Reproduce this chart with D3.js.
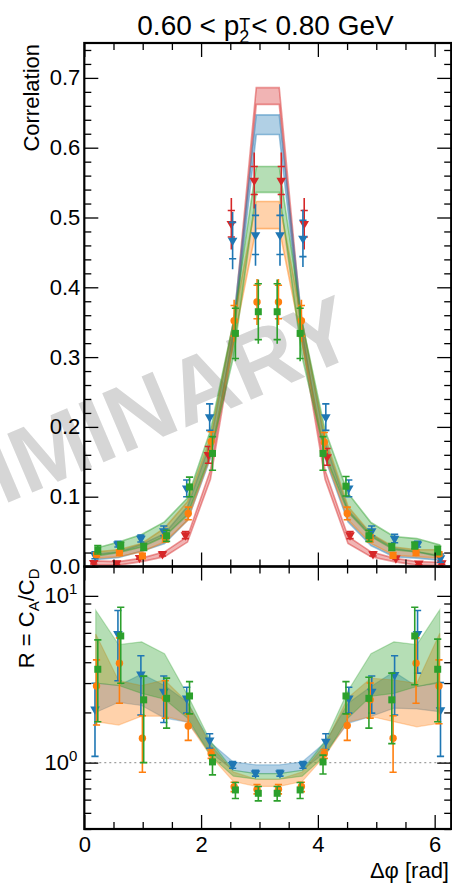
<!DOCTYPE html>
<html>
<head>
<meta charset="utf-8">
<script src="https://cdn.jsdelivr.net/npm/d3@7"></script>
<style>
  html, body { margin: 0; padding: 0; background: #fff; }
  svg { display: block; }
</style>
</head>
<body>
<svg id="chart" width="452" height="887"></svg>
<script>
// ---------------- data ----------------
// bin centres in delta-phi [rad]
const dphi = [0.196, 0.589, 0.982, 1.374, 1.767, 2.160, 2.553, 2.945,
              3.338, 3.731, 4.123, 4.516, 4.909, 5.301, 5.694, 6.087];

// correlation, upper panel (value, stat. error with caps, total error)
const corrRed      = [0.0055, 0.005, 0.0126, 0.018, 0.045, 0.160, 0.491, 0.553, 0.553, 0.491, 0.157, 0.045, 0.018, 0.012, 0.0046, 0.005];
const corrRedStat  = [0.002, 0.002, 0.002, 0.003, 0.005, 0.012, 0.019, 0.020, 0.020, 0.019, 0.012, 0.005, 0.003, 0.002, 0.002, 0.002];
const corrRedTot   = [0.002, 0.002, 0.002, 0.003, 0.005, 0.012, 0.037, 0.040, 0.040, 0.037, 0.012, 0.005, 0.003, 0.002, 0.002, 0.002];

const corrBlue     = [0.016, 0.032, 0.040, 0.051, 0.112, 0.214, 0.467, 0.475, 0.475, 0.470, 0.214, 0.112, 0.051, 0.040, 0.032, 0.012];
const corrBlueStat = [0.005, 0.004, 0.005, 0.007, 0.012, 0.019, 0.026, 0.028, 0.028, 0.026, 0.019, 0.012, 0.007, 0.006, 0.004, 0.006];
const corrBlueTot  = [0.005, 0.004, 0.005, 0.007, 0.012, 0.019, 0.041, 0.044, 0.044, 0.041, 0.019, 0.012, 0.007, 0.006, 0.004, 0.006];

const corrOrange     = [0.017, 0.020, 0.015, 0.040, 0.076, 0.179, 0.352, 0.379, 0.379, 0.352, 0.178, 0.076, 0.040, 0.016, 0.020, 0.018];
const corrOrangeStat = [0.003, 0.004, 0.004, 0.005, 0.009, 0.014, 0.022, 0.024, 0.024, 0.022, 0.014, 0.009, 0.005, 0.004, 0.004, 0.003];
const corrOrangeTot  = [0.003, 0.004, 0.004, 0.005, 0.009, 0.014, 0.030, 0.033, 0.033, 0.030, 0.014, 0.009, 0.005, 0.004, 0.004, 0.003];

const corrGreen     = [0.024, 0.030, 0.028, 0.044, 0.114, 0.162, 0.334, 0.365, 0.365, 0.334, 0.162, 0.115, 0.044, 0.028, 0.030, 0.023];
const corrGreenStat = [0.006, 0.005, 0.005, 0.008, 0.014, 0.024, 0.036, 0.040, 0.040, 0.036, 0.024, 0.014, 0.008, 0.005, 0.005, 0.006];
const corrGreenTot  = [0.006, 0.005, 0.005, 0.008, 0.014, 0.024, 0.040, 0.046, 0.046, 0.040, 0.024, 0.014, 0.008, 0.005, 0.005, 0.006];

// model bands, upper panel
const bandRedLo    = [0.002, 0.002, 0.007, 0.014, 0.035, 0.125, 0.320, 0.662, 0.662, 0.320, 0.125, 0.033, 0.014, 0.007, 0.002, 0.001];
const bandRedHi    = [0.008, 0.007, 0.012, 0.021, 0.043, 0.138, 0.340, 0.686, 0.686, 0.340, 0.138, 0.043, 0.021, 0.012, 0.007, 0.006];
const bandBlueLo   = [0.010, 0.013, 0.022, 0.033, 0.066, 0.155, 0.330, 0.619, 0.619, 0.330, 0.155, 0.064, 0.030, 0.014, 0.012, 0.009];
const bandBlueHi   = [0.018, 0.021, 0.032, 0.047, 0.086, 0.178, 0.350, 0.647, 0.647, 0.350, 0.178, 0.081, 0.046, 0.026, 0.021, 0.016];
const bandOrangeLo = [0.012, 0.014, 0.021, 0.035, 0.066, 0.158, 0.320, 0.484, 0.484, 0.320, 0.158, 0.067, 0.033, 0.016, 0.014, 0.012];
const bandOrangeHi = [0.021, 0.024, 0.033, 0.055, 0.093, 0.185, 0.350, 0.523, 0.523, 0.350, 0.185, 0.086, 0.047, 0.028, 0.024, 0.024];
const bandGreenLo  = [0.015, 0.020, 0.028, 0.043, 0.074, 0.160, 0.300, 0.536, 0.536, 0.300, 0.160, 0.078, 0.043, 0.024, 0.021, 0.014];
const bandGreenHi  = [0.026, 0.035, 0.046, 0.064, 0.098, 0.195, 0.350, 0.573, 0.573, 0.350, 0.195, 0.105, 0.063, 0.043, 0.040, 0.031];

// ratio R = C_A / C_D, lower panel (value, lower and upper error ends)
const ratioBlue     = [2.09, 5.92, 3.39, 2.67, 2.43, 1.36, 0.97, 0.864, 0.864, 0.97, 1.34, 2.43, 2.67, 3.36, 5.92, 2.07];
const ratioBlueLo   = [1.09, 3.10, 1.93, 1.74, 1.98, 1.22, 0.925, 0.83, 0.83, 0.925, 1.20, 1.98, 1.98, 1.93, 3.44, 1.09];
const ratioBlueHi   = [2.99, 8.17, 4.37, 3.31, 2.83, 1.49, 1.014, 0.90, 0.90, 1.014, 1.49, 2.83, 3.31, 4.37, 8.17, 3.02];

const ratioOrange   = [2.88, 3.95, 1.40, 2.43, 1.66, 1.13, 0.718, 0.692, 0.692, 0.72, 1.13, 1.67, 2.38, 1.40, 3.95, 2.88];
const ratioOrangeLo = [1.68, 2.27, 0.875, 1.85, 1.36, 1.06, 0.67, 0.65, 0.65, 0.67, 1.06, 1.36, 1.85, 0.875, 2.27, 1.71];
const ratioOrangeHi = [4.13, 5.60, 1.91, 3.10, 1.96, 1.20, 0.763, 0.74, 0.74, 0.763, 1.20, 1.96, 3.00, 1.91, 5.60, 4.13];

const ratioGreen    = [3.63, 5.75, 2.38, 2.43, 2.51, 1.01, 0.686, 0.655, 0.655, 0.686, 1.01, 2.51, 2.43, 2.38, 5.75, 3.63];
const ratioGreenLo  = [1.76, 2.99, 1.00, 1.61, 1.96, 0.844, 0.61, 0.59, 0.59, 0.61, 0.855, 1.96, 1.61, 1.30, 2.93, 1.76];
const ratioGreenHi  = [5.45, 8.55, 3.30, 3.21, 3.06, 1.11, 0.76, 0.72, 0.72, 0.76, 1.11, 3.06, 3.25, 3.44, 8.55, 5.50];

// model bands, lower panel
const rBandBlueLo   = [2.00, 2.30, 2.20, 1.85, 1.75, 1.15, 0.90, 0.86, 0.86, 0.90, 1.15, 1.72, 1.89, 2.12, 2.10, 2.02];
const rBandBlueHi   = [3.00, 2.90, 3.40, 2.90, 2.30, 1.32, 1.01, 0.97, 0.97, 1.01, 1.32, 2.27, 2.86, 3.51, 2.86, 3.06];
const rBandOrangeLo = [1.76, 1.68, 1.90, 1.90, 1.75, 1.10, 0.77, 0.72, 0.72, 0.77, 1.10, 1.75, 1.89, 1.76, 1.64, 1.72];
const rBandOrangeHi = [5.90, 3.10, 2.90, 3.13, 2.30, 1.28, 0.88, 0.795, 0.795, 0.88, 1.28, 2.45, 3.21, 3.13, 2.99, 5.97];
const rBandGreenLo  = [3.00, 2.90, 2.60, 2.40, 1.85, 1.10, 0.83, 0.795, 0.795, 0.83, 1.10, 1.85, 2.50, 2.60, 2.86, 3.00];
const rBandGreenHi  = [8.20, 5.10, 5.30, 4.50, 2.55, 1.35, 0.90, 0.86, 0.86, 0.90, 1.35, 2.70, 4.50, 5.30, 5.10, 8.26];

// axis ticks
const xMajorTicks = [0, 2, 4, 6];
const xTickLabels = ["0", "2", "4", "6"];
const xMinorTicks = [0.5, 1, 1.5, 2.5, 3, 3.5, 4.5, 5, 5.5];
const yTopMajorTicks = [0, 0.1, 0.2, 0.3, 0.4, 0.5, 0.6, 0.7];
const yTopTickLabels = ["0.0", "0.1", "0.2", "0.3", "0.4", "0.5", "0.6", "0.7"];
const yBotMajorTicks = [1, 10];
const yBotTickExp = ["0", "1"];
const yBotMinorTicks = [0.4, 0.5, 0.6, 0.7, 0.8, 0.9, 2, 3, 4, 5, 6, 7, 8, 9];

// ---------------- layout ----------------
const FONT = '"Liberation Sans", Arial, Helvetica, sans-serif';
const svg = d3.select("#chart").attr("font-family", FONT);
const frame = { left: 84.3, right: 451.2, top: 43, mid: 566.5, bottom: 829 };

const x = d3.scaleLinear().domain([0, 2 * Math.PI]).range([frame.left, frame.right]);
const yTop = d3.scaleLinear().domain([0, 0.75]).range([frame.mid, frame.top]);
const yBot = d3.scaleLog().domain([0.4, 15]).range([frame.bottom, frame.mid]);

const yTopMinorTicks = d3.range(0, 0.751, 0.02).filter(v => Math.abs(v * 10 - Math.round(v * 10)) > 1e-6);

// watermark, behind everything
svg.append("text")
  .attr("transform", "translate(361,353) rotate(-23)")
  .attr("text-anchor", "end")
  .attr("font-size", 93)
  .attr("font-weight", "bold")
  .attr("fill", "#d6d6d6")
  .text("PRELIMINARY");

const defs = svg.append("defs");
defs.append("clipPath").attr("id", "clipTop").append("rect")
  .attr("x", frame.left).attr("y", frame.top)
  .attr("width", frame.right - frame.left).attr("height", frame.mid - frame.top);
defs.append("clipPath").attr("id", "clipBot").append("rect")
  .attr("x", frame.left).attr("y", frame.mid)
  .attr("width", frame.right - frame.left).attr("height", frame.bottom - frame.mid);

const series = [
  { color: "#d62728", shape: "tri", off: -0.035,
    corr: corrRed, stat: corrRedStat, tot: corrRedTot, bandLo: bandRedLo, bandHi: bandRedHi },
  { color: "#1f77b4", shape: "tri", off: -0.013,
    corr: corrBlue, stat: corrBlueStat, tot: corrBlueTot, bandLo: bandBlueLo, bandHi: bandBlueHi,
    ratio: ratioBlue, rLo: ratioBlueLo, rHi: ratioBlueHi, rBandLo: rBandBlueLo, rBandHi: rBandBlueHi },
  { color: "#ff7f0e", shape: "circle", off: 0.013,
    corr: corrOrange, stat: corrOrangeStat, tot: corrOrangeTot, bandLo: bandOrangeLo, bandHi: bandOrangeHi,
    ratio: ratioOrange, rLo: ratioOrangeLo, rHi: ratioOrangeHi, rBandLo: rBandOrangeLo, rBandHi: rBandOrangeHi },
  { color: "#2ca02c", shape: "square", off: 0.035,
    corr: corrGreen, stat: corrGreenStat, tot: corrGreenTot, bandLo: bandGreenLo, bandHi: bandGreenHi,
    ratio: ratioGreen, rLo: ratioGreenLo, rHi: ratioGreenHi, rBandLo: rBandGreenLo, rBandHi: rBandGreenHi }
];

// points are nudged towards the near-side peak so that series do not overlap
const px = (s, i) => x(dphi[i] + s.off * (dphi[i] < Math.PI ? 1 : -1));

function marker(g, cx, cy, shape, color) {
  if (shape === "tri") {
    g.append("path").attr("d", d3.symbol(d3.symbolTriangle, 40)())
      .attr("transform", `translate(${cx},${cy}) rotate(180)`).attr("fill", color);
  } else if (shape === "circle") {
    g.append("circle").attr("cx", cx).attr("cy", cy).attr("r", 3.7).attr("fill", color);
  } else {
    g.append("rect").attr("x", cx - 3.5).attr("y", cy - 3.5).attr("width", 7).attr("height", 7).attr("fill", color);
  }
}

function errorBar(g, cx, yA, yB, capA, capB, color) {
  g.append("line").attr("x1", cx).attr("x2", cx).attr("y1", yA).attr("y2", yB)
    .attr("stroke", color).attr("stroke-width", 1.6);
  [capA, capB].forEach(cy => g.append("line")
    .attr("x1", cx - 3.6).attr("x2", cx + 3.6).attr("y1", cy).attr("y2", cy)
    .attr("stroke", color).attr("stroke-width", 1.6));
}

// ---------------- upper panel ----------------
const gUpper = svg.append("g").attr("clip-path", "url(#clipTop)");
series.forEach(s => {
  const area = d3.area().x((d, i) => x(dphi[i])).y0((d, i) => yTop(s.bandLo[i])).y1((d, i) => yTop(s.bandHi[i]));
  gUpper.append("path").attr("d", area(dphi))
    .attr("fill", s.color).attr("fill-opacity", 0.35)
    .attr("stroke", s.color).attr("stroke-opacity", 0.45).attr("stroke-width", 1.6);
});
series.forEach(s => {
  const g = gUpper.append("g");
  s.corr.forEach((v, i) => {
    const cx = px(s, i);
    errorBar(g, cx, yTop(v + s.tot[i]), yTop(v - s.tot[i]), yTop(v + s.stat[i]), yTop(v - s.stat[i]), s.color);
    marker(g, cx, yTop(v), s.shape, s.color);
  });
});

// ---------------- lower panel ----------------
const gLower = svg.append("g").attr("clip-path", "url(#clipBot)");
gLower.append("line").attr("x1", frame.left).attr("x2", frame.right)
  .attr("y1", yBot(1)).attr("y2", yBot(1))
  .attr("stroke", "#a0a0a0").attr("stroke-width", 1.4).attr("stroke-dasharray", "2,3");
series.filter(s => s.ratio).forEach(s => {
  const area = d3.area().x((d, i) => x(dphi[i])).y0((d, i) => yBot(s.rBandLo[i])).y1((d, i) => yBot(s.rBandHi[i]));
  gLower.append("path").attr("d", area(dphi))
    .attr("fill", s.color).attr("fill-opacity", 0.35)
    .attr("stroke", s.color).attr("stroke-opacity", 0.3).attr("stroke-width", 1.2);
});
series.filter(s => s.ratio).forEach(s => {
  const g = gLower.append("g");
  s.ratio.forEach((v, i) => {
    const cx = px(s, i);
    errorBar(g, cx, yBot(s.rHi[i]), yBot(s.rLo[i]), yBot(s.rHi[i]), yBot(s.rLo[i]), s.color);
    marker(g, cx, yBot(v), s.shape, s.color);
  });
});

// ---------------- axes ----------------
function axis(gen, transform, values, len, labels, pad) {
  const a = gen.tickValues(values).tickSizeInner(-len).tickSizeOuter(0).tickPadding(pad || 4)
    .tickFormat(labels ? (d, i) => labels[i] : "");
  const g = svg.append("g").attr("transform", transform).call(a)
    .attr("font-family", FONT).attr("font-size", 22);
  g.select(".domain").remove();
  g.selectAll(".tick line").attr("stroke", "#000").attr("stroke-width", 1.3);
  g.selectAll(".tick text").attr("fill", "#000");
  return g;
}
const MAJ = 14, MIN = 7;
// upper panel
axis(d3.axisLeft(yTop), `translate(${frame.left},0)`, yTopMajorTicks, MAJ, yTopTickLabels, 4);
axis(d3.axisLeft(yTop), `translate(${frame.left},0)`, yTopMinorTicks, MIN);
axis(d3.axisRight(yTop), `translate(${frame.right},0)`, yTopMajorTicks, MAJ);
axis(d3.axisRight(yTop), `translate(${frame.right},0)`, yTopMinorTicks, MIN);
axis(d3.axisTop(x), `translate(0,${frame.top})`, xMajorTicks, MAJ);
axis(d3.axisTop(x), `translate(0,${frame.top})`, xMinorTicks, MIN);
axis(d3.axisBottom(x), `translate(0,${frame.mid})`, xMajorTicks, MAJ);
axis(d3.axisBottom(x), `translate(0,${frame.mid})`, xMinorTicks, MIN);
// lower panel
axis(d3.axisLeft(yBot), `translate(${frame.left},0)`, yBotMajorTicks, MAJ);
axis(d3.axisLeft(yBot), `translate(${frame.left},0)`, yBotMinorTicks, MIN);
axis(d3.axisRight(yBot), `translate(${frame.right},0)`, yBotMajorTicks, MAJ);
axis(d3.axisRight(yBot), `translate(${frame.right},0)`, yBotMinorTicks, MIN);
axis(d3.axisTop(x), `translate(0,${frame.mid})`, xMajorTicks, MAJ);
axis(d3.axisTop(x), `translate(0,${frame.mid})`, xMinorTicks, MIN);
axis(d3.axisBottom(x), `translate(0,${frame.bottom})`, xMajorTicks, MAJ, xTickLabels, 7.5);
axis(d3.axisBottom(x), `translate(0,${frame.bottom})`, xMinorTicks, MIN);

// log tick labels 10^n
yBotMajorTicks.forEach((v, i) => {
  const t = svg.append("text").attr("x", frame.left - 7).attr("y", yBot(v) + 7.5)
    .attr("text-anchor", "end").attr("font-size", 22).attr("fill", "#000");
  t.append("tspan").text("10");
  t.append("tspan").attr("dy", -9).attr("font-size", 15).text(yBotTickExp[i]);
});

// frames
[[frame.top, frame.mid], [frame.mid, frame.bottom]].forEach(([y0, y1]) => {
  svg.append("rect").attr("x", frame.left).attr("y", y0)
    .attr("width", frame.right - frame.left).attr("height", y1 - y0)
    .attr("fill", "none").attr("stroke", "#000").attr("stroke-width", 2.2);
});

// ---------------- labels ----------------
svg.append("text").attr("transform", `translate(38.5,${frame.top + 1}) rotate(-90)`)
  .attr("text-anchor", "end").attr("font-size", 22).attr("fill", "#000").text("Correlation");

const rl = svg.append("text").attr("transform", `translate(33.5,${frame.mid + 2}) rotate(-90)`)
  .attr("text-anchor", "end").attr("font-size", 22).attr("fill", "#000");
rl.append("tspan").text("R = C");
rl.append("tspan").attr("dy", 5).attr("font-size", 15).text("A");
rl.append("tspan").attr("dy", -5).text("/C");
rl.append("tspan").attr("dy", 5).attr("font-size", 15).text("D");

svg.append("text").attr("x", 449).attr("y", 878).attr("text-anchor", "end")
  .attr("font-size", 22).attr("fill", "#000").text("Δφ [rad]");

// title: 0.60 < p_2^T < 0.80 GeV (sub- and superscript stacked)
function textWidth(str, size) {
  const t = svg.append("text").attr("font-size", size).text(str);
  const w = t.node().getComputedTextLength();
  t.remove();
  return w;
}
const tSize = 28, sSize = 18;
const part1 = "0.60 < p", part3 = "< 0.80 GeV";
const w1 = textWidth(part1, tSize);
const wS = Math.max(textWidth("T", sSize), textWidth("2", sSize));
const w3 = textWidth(part3, tSize);
const tx0 = 265.5 - (w1 + wS + 1 + w3) / 2;
const title = svg.append("g").attr("fill", "#000");
title.append("text").attr("x", tx0).attr("y", 35).attr("font-size", tSize).text(part1);
title.append("text").attr("x", tx0 + w1).attr("y", 30.5).attr("font-size", sSize).text("T");
title.append("text").attr("x", tx0 + w1).attr("y", 43).attr("font-size", sSize).text("2");
title.append("text").attr("x", tx0 + w1 + wS + 1).attr("y", 35).attr("font-size", tSize).text(part3);
</script>
</body>
</html>
